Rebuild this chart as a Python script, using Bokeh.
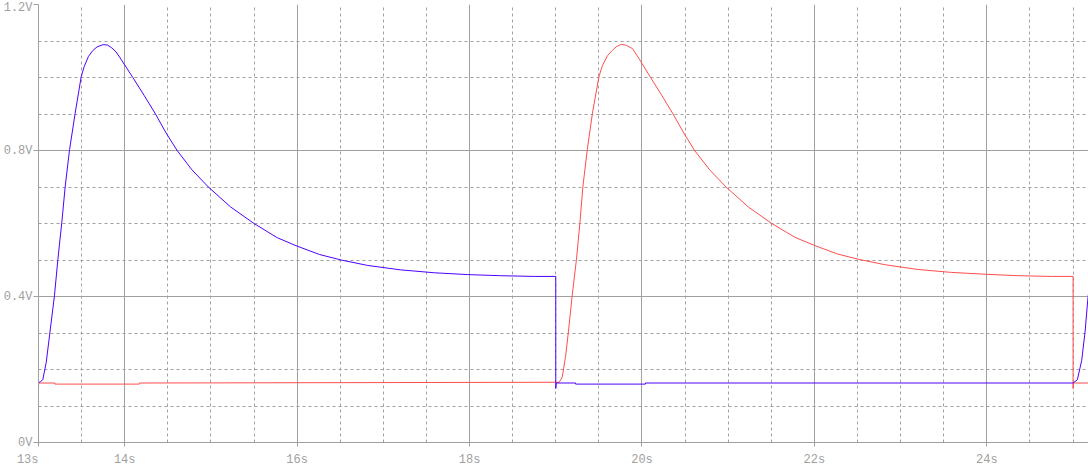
from bokeh.plotting import figure
from bokeh.models import Range1d, FixedTicker
from bokeh.embed import file_html
from bokeh.resources import INLINE

# ---- data ----
x_ticks = [13, 14, 16, 18, 20, 22, 24]
x_tick_labels = ["13s\u00a0\u00a0\u00a0", "14s", "16s", "18s", "20s", "22s", "24s"]
x_minor = [13.5, 14.5, 15, 15.5, 16.5, 17, 17.5, 18.5, 19, 19.5, 20.5, 21, 21.5,
           22.5, 23, 23.5, 24.5, 25]
y_ticks = [0, 0.4, 0.8, 1.2]
y_tick_labels = ["0V", "0.4V", "0.8V", "1.2V"]
y_minor = [0.1, 0.2, 0.3, 0.5, 0.6, 0.7, 0.9, 1.0, 1.1]

blue_t = [13.0, 13.02, 13.05, 13.09, 13.13, 13.185, 13.225, 13.27, 13.31, 13.36,
          13.425, 13.495, 13.53, 13.58, 13.63, 13.68, 13.75, 13.80, 13.85, 13.90,
          13.96, 14.094, 14.225, 14.357, 14.48, 14.608, 14.78, 14.97, 15.23, 15.5,
          15.77, 16.0, 16.26, 16.51, 16.82, 17.2, 17.59, 17.98, 18.36, 18.75,
          19.0, 19.0, 19.005, 19.23, 19.23, 20.04, 20.04, 25.0, 25.05, 25.1,
          25.14, 25.17, 25.2]
blue_v = [0.164, 0.166, 0.172, 0.220, 0.297, 0.402, 0.502, 0.602, 0.702, 0.802,
          0.902, 1.002, 1.030, 1.058, 1.074, 1.084, 1.090, 1.089, 1.081, 1.070,
          1.049, 1.000, 0.951, 0.900, 0.848, 0.800, 0.747, 0.700, 0.645, 0.600,
          0.561, 0.538, 0.515, 0.500, 0.485, 0.473, 0.465, 0.460, 0.457, 0.455,
          0.455, 0.148, 0.163, 0.163, 0.160, 0.160, 0.163, 0.163, 0.172, 0.225,
          0.305, 0.390, 0.450]

red_t = [13.0, 13.0, 13.002, 13.19, 13.19, 14.17, 14.17, 19.04, 19.075, 19.115,
         19.15, 19.19, 19.24, 19.28, 19.315, 19.365, 19.425, 19.50, 19.54, 19.60,
         19.655, 19.70, 19.76, 19.82, 19.89, 19.97, 20.10, 20.23, 20.36, 20.485,
         20.61, 20.785, 20.975, 21.235, 21.505, 21.775, 22.0, 22.26, 22.51, 22.82,
         23.2, 23.59, 23.98, 24.36, 24.75, 25.0, 25.0, 25.005, 25.18]
red_v = [0.456, 0.148, 0.163, 0.163, 0.160, 0.160, 0.163, 0.165, 0.179, 0.238,
         0.311, 0.402, 0.502, 0.602, 0.702, 0.802, 0.902, 1.002, 1.032, 1.060,
         1.074, 1.084, 1.091, 1.088, 1.079, 1.050, 1.000, 0.951, 0.900, 0.848,
         0.800, 0.747, 0.700, 0.645, 0.600, 0.562, 0.540, 0.517, 0.502, 0.487,
         0.474, 0.466, 0.461, 0.457, 0.455, 0.455, 0.148, 0.163, 0.163]

GRID = "#a0a0a0"
FONT = "Liberation Mono"

p = figure(width=1088, height=469, output_backend="svg", toolbar_location=None,
           x_range=Range1d(13, 25.179), y_range=Range1d(0, 1.2),
           min_border_left=37, min_border_right=0, min_border_top=4,
           min_border_bottom=25)
p.outline_line_color = None
p.background_fill_color = "white"
p.border_fill_color = "white"

p.xaxis.ticker = FixedTicker(ticks=x_ticks, minor_ticks=x_minor)
p.yaxis.ticker = FixedTicker(ticks=y_ticks, minor_ticks=y_minor)
p.xaxis.major_label_overrides = {t: l for t, l in zip(x_ticks, x_tick_labels)}
p.yaxis.major_label_overrides = {t: l for t, l in zip(y_ticks, y_tick_labels)}

for ax in (p.xaxis, p.yaxis):
    ax.axis_line_color = GRID
    ax.major_tick_line_color = GRID
    ax.minor_tick_line_color = None
    ax.major_label_text_color = GRID
    ax.major_label_text_font = FONT
    ax.major_label_text_font_size = "12px"
    ax.major_tick_in = 0
p.xaxis.major_tick_out = 4
p.xaxis.major_label_standoff = 6
p.yaxis.major_tick_out = 5
p.yaxis.major_label_standoff = 1

for g in (p.xgrid, p.ygrid):
    g.grid_line_color = GRID
    g.grid_line_width = 1
    g.minor_grid_line_color = GRID
    g.minor_grid_line_dash = "3 3"

p.line(red_t, red_v, line_color="#ff4d4d", line_width=1)
p.line(blue_t, blue_v, line_color="#4d00ff", line_width=1)

open("out.html", "w").write(file_html(p, INLINE))
